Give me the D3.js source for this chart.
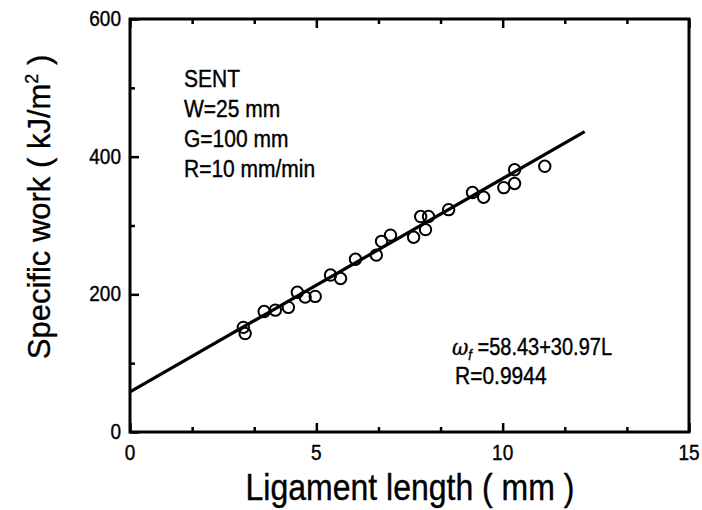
<!DOCTYPE html>
<html>
<head>
<meta charset="utf-8">
<script src="https://cdn.jsdelivr.net/npm/d3@7"></script>
<style>
  html, body { margin: 0; padding: 0; background: #fff; }
  svg text { font-family: "Liberation Sans", Arial, Helvetica, sans-serif; fill: #000; stroke: #000; stroke-width: 0.35px; }
</style>
</head>
<body>
<svg id="chart" width="702" height="510"></svg>
<script>
// ---- data ----
const ligamentLength = [3.04, 3.09, 3.60, 3.90, 4.25, 4.49, 4.70, 4.97, 5.38, 5.65, 6.05, 6.61, 6.75, 6.99, 7.61, 7.80, 8.01, 7.93, 8.55, 9.19, 9.49, 10.03, 10.32, 10.32, 11.13];
const specificWork   = [152, 143, 175, 177, 181, 203, 196, 197, 228, 223, 251, 257, 277, 286, 283, 313, 313, 294, 323, 348, 341, 355, 381, 361, 386];
const fitLineL = [0, 12.2];
const fitLineW = [58.43, 436.3];
const xTicks = [0, 5, 10, 15];
const yTicks = [0, 200, 400, 600];
const xMinorTicks = [1.667, 3.333, 6.667, 8.333, 11.667, 13.333];
const yMinorTicks = [100, 300, 500];
const infoLines = ["SENT", "W=25 mm", "G=100 mm", "R=10 mm/min"];
const xTitle = "Ligament length ( mm )";

// ---- layout ----
const svg = d3.select("#chart");
const xScale = d3.scaleLinear().domain([0, 15]).range([130, 689]);
const yScale = d3.scaleLinear().domain([0, 600]).range([432, 19]);
const SY = 1.15; // vertical stretch of scanned text

function stretchedText(g, tx, ty, str, size, anchor) {
  return g.append("text")
    .attr("transform", `translate(${tx},${ty}) scale(1,${SY})`)
    .attr("text-anchor", anchor || "start")
    .style("font-size", size + "px")
    .text(str);
}

// fit line
svg.append("line")
  .attr("x1", xScale(fitLineL[0])).attr("y1", yScale(fitLineW[0]))
  .attr("x2", xScale(fitLineL[1])).attr("y2", yScale(fitLineW[1]))
  .attr("stroke", "#000").attr("stroke-width", 3.2);

// points
const pts = ligamentLength.map((l, i) => ({l, w: specificWork[i]}));
svg.append("g").selectAll("circle").data(pts).join("circle")
  .attr("cx", d => xScale(d.l)).attr("cy", d => yScale(d.w)).attr("r", 5.7)
  .attr("fill", "none").attr("stroke", "#000").attr("stroke-width", 2);

// axes (ticks inward)
svg.append("g").attr("transform", `translate(0,${yScale(0)})`)
  .call(d3.axisBottom(xScale).tickValues(xTicks).tickSize(-9).tickFormat(""));
svg.append("g").attr("transform", `translate(0,${yScale(0)})`)
  .call(d3.axisBottom(xScale).tickValues(xMinorTicks).tickSize(-5).tickFormat(""));
svg.append("g").attr("transform", `translate(0,${yScale(600)})`)
  .call(d3.axisTop(xScale).tickValues(xTicks).tickSize(-9).tickFormat(""));
svg.append("g").attr("transform", `translate(0,${yScale(600)})`)
  .call(d3.axisTop(xScale).tickValues(xMinorTicks).tickSize(-5).tickFormat(""));
svg.append("g").attr("transform", `translate(${xScale(0)},0)`)
  .call(d3.axisLeft(yScale).tickValues(yTicks).tickSize(-9).tickFormat(""));
svg.append("g").attr("transform", `translate(${xScale(0)},0)`)
  .call(d3.axisLeft(yScale).tickValues(yMinorTicks).tickSize(-5).tickFormat(""));

svg.selectAll(".domain").remove();
svg.selectAll(".tick line").attr("stroke", "#000").attr("stroke-width", 2.5);

// frame
svg.append("rect")
  .attr("x", xScale(0)).attr("y", yScale(600))
  .attr("width", xScale(15) - xScale(0)).attr("height", yScale(0) - yScale(600))
  .attr("fill", "none").attr("stroke", "#000").attr("stroke-width", 3);

// tick labels
const labels = svg.append("g");
xTicks.forEach(v => stretchedText(labels, xScale(v), 460, String(v), 19, "middle"));
yTicks.forEach(v => stretchedText(labels, 121, yScale(v) + 7, String(v), 19, "end"));

// axis titles
stretchedText(svg, 410, 500, xTitle, 32, "middle");
const yt = svg.append("text")
  .attr("transform", `translate(50,207) rotate(-90)`)
  .attr("text-anchor", "middle")
  .style("font-size", "31px");
yt.append("tspan").text("Specific work ( kJ/m");
yt.append("tspan").attr("dy", -12).style("font-size", "18px").text("2");
yt.append("tspan").attr("dy", 12).text(" )");

// info block
infoLines.forEach((s, i) => stretchedText(svg, 184, 87 + i * 30, s, 21));

// equation
const eq = svg.append("text")
  .attr("transform", `translate(452,355) scale(1,${SY})`)
  .style("font-size", "20px");
eq.append("tspan").style("font-style", "italic").attr("font-family", "DejaVu Serif, serif").text("ω");
eq.append("tspan").style("font-style", "italic").style("font-size", "13px").attr("dy", 4).text("f");
eq.append("tspan").attr("dy", -4).text(" =58.43+30.97L");
stretchedText(svg, 455, 384, "R=0.9944", 21);
</script>
</body>
</html>
